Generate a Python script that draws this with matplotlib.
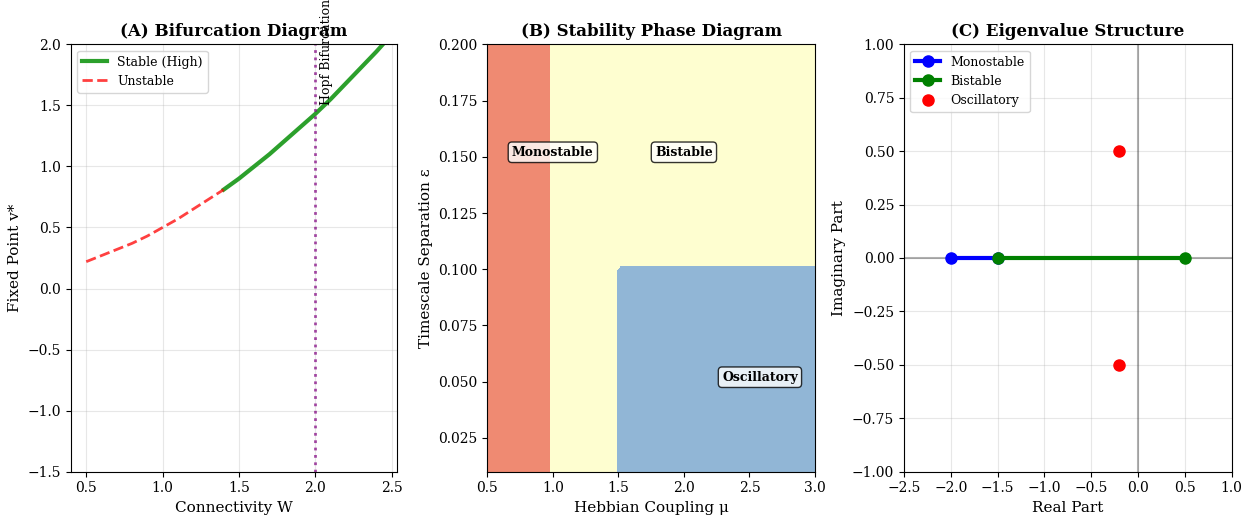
import numpy as np
import matplotlib
matplotlib.use("Agg")
import matplotlib.pyplot as plt
from matplotlib.colors import ListedColormap

plt.rcParams['font.family'] = ['DejaVu Serif']

# ---------------- Panel A data ----------------
W_unstable = [0.5, 0.6, 0.7, 0.8, 0.9, 1.0, 1.1, 1.2, 1.3, 1.4]
v_unstable = [0.22, 0.27, 0.32, 0.37, 0.43, 0.50, 0.57, 0.65, 0.73, 0.81]
W_stable = [1.4, 1.5, 1.6, 1.7, 1.8, 1.9, 2.0, 2.1, 2.2, 2.3, 2.4, 2.5]
v_stable = [0.81, 0.90, 1.00, 1.10, 1.21, 1.32, 1.43, 1.55, 1.68, 1.81, 1.94, 2.08]
W_hopf = 2.0

# ---------------- Panel B data ----------------
mu_mono_max = 0.98      # monostable below this coupling
mu_osc_min = 1.5        # oscillatory above this coupling ...
eps_osc_max = 0.1       # ... and below this timescale separation
phase_colors = ['#ef8a72', '#fefed0', '#91b6d6']
phase_labels = ['Monostable', 'Bistable', 'Oscillatory']
label_pos_mu = [1.0, 2.0, 2.58]
label_pos_eps = [0.152, 0.152, 0.052]

# ---------------- Panel C data ----------------
mono_re = [-2.0, -1.5]
mono_im = [0.0, 0.0]
bi_re = [-1.5, 0.5]
bi_im = [0.0, 0.0]
osc_re = [-0.2, -0.2]
osc_im = [0.5, -0.5]

fig = plt.figure(figsize=(12.48, 5.18), dpi=100)
W_, H_ = 1248, 518
def pos(l, r, t, b):
    return [l / W_, 1 - b / H_, (r - l) / W_, (b - t) / H_]

axA = fig.add_axes(pos(71, 397.3, 44.3, 471.7))
axB = fig.add_axes(pos(487.3, 815, 44.3, 471.7))
axC = fig.add_axes(pos(904, 1231.7, 44.3, 471.7))

# Panel A
axA.plot(W_stable, v_stable, color='#2ca02c', lw=3, label='Stable (High)')
axA.plot(W_unstable, v_unstable, color='red', ls='--', lw=2, alpha=0.75, label='Unstable')
axA.axvline(W_hopf, color='purple', ls=':', lw=2, alpha=0.7)
axA.text(W_hopf + 0.03, 1.5, 'Hopf Bifurcation', rotation=90, fontsize=9,
         ha='left', va='bottom')
axA.set_xlim(0.4, 2.537)
axA.set_ylim(-1.5, 2.0)
axA.set_xlabel('Connectivity W', fontsize=11)
axA.set_ylabel('Fixed Point v*', fontsize=11)
axA.set_title('(A) Bifurcation Diagram', fontsize=12, fontweight='bold')
axA.legend(loc='upper left', fontsize=9)
axA.grid(True, alpha=0.3)

# Panel B
mu = np.linspace(0.5, 3.0, 50)
eps = np.linspace(0.01, 0.2, 50)
MU, EPS = np.meshgrid(mu, eps)
phase = np.ones_like(MU)
phase[MU < mu_mono_max] = 0
phase[(MU >= mu_osc_min) & (EPS <= eps_osc_max + 0.002)] = 2
axB.contourf(MU, EPS, phase, levels=[-0.5, 0.5, 1.5, 2.5],
             cmap=ListedColormap(phase_colors))
for lab, x, y in zip(phase_labels, label_pos_mu, label_pos_eps):
    axB.text(x, y, lab, fontsize=9, fontweight='bold', ha='center', va='center',
             bbox=dict(boxstyle='round', facecolor='white', alpha=0.8))
axB.set_xlim(0.5, 3.0)
axB.set_ylim(0.01, 0.2)
axB.set_xlabel('Hebbian Coupling μ', fontsize=11)
axB.set_ylabel('Timescale Separation ε', fontsize=11)
axB.set_title('(B) Stability Phase Diagram', fontsize=12, fontweight='bold')

# Panel C
axC.axhline(0, color='k', alpha=0.3)
axC.axvline(0, color='k', alpha=0.3)
axC.plot(mono_re, mono_im, 'bo-', lw=3, markersize=8, label='Monostable')
axC.plot(bi_re, bi_im, 'go-', lw=3, markersize=8, label='Bistable')
axC.plot(osc_re, osc_im, 'ro', markersize=8, lw=0, label='Oscillatory')
axC.set_xlim(-2.5, 1.0)
axC.set_ylim(-1.0, 1.0)
axC.set_xlabel('Real Part', fontsize=11)
axC.set_ylabel('Imaginary Part', fontsize=11)
axC.set_title('(C) Eigenvalue Structure', fontsize=12, fontweight='bold')
axC.legend(loc='upper left', fontsize=9)
axC.grid(True, alpha=0.3)

fig.savefig('out.png', dpi=100)
